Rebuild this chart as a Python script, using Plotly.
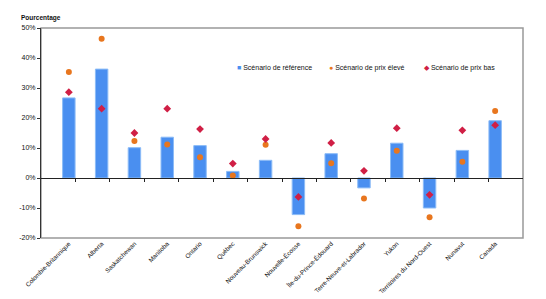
import plotly.graph_objects as go

provinces = ["Colombie-Britannique", "Alberta", "Saskatchewan", "Manitoba", "Ontario",
             "Québec", "Nouveau-Brunswick", "Nouvelle-Écosse", "Île-du-Prince-Édouard",
             "Terre-Neuve-et-Labrador", "Yukon", "Territoires du Nord-Ouest", "Nunavut", "Canada"]
reference = [26.7, 36.3, 10.1, 13.6, 10.8, 2.2, 5.9, -12.2, 8.1, -3.3, 11.6, -10.0, 9.2, 19.1]
prix_eleve = [35.3, 46.4, 12.3, 11.2, 6.9, 0.8, 11.1, -16.1, 4.9, -6.8, 9.1, -13.1, 5.4, 22.3]
prix_bas = [28.6, 23.1, 15.0, 23.1, 16.3, 4.8, 13.0, -6.3, 11.7, 2.4, 16.6, -5.6, 15.9, 17.6]
yticks = [-20, -10, 0, 10, 20, 30, 40, 50]

series_names = ["Scénario de référence", "Scénario de prix élevé", "Scénario de prix bas"]
colors = ["#4a8ff0", "#e8761e", "#d01f45"]
legend_symbols = ["■", "●", "◆"]
legend_x = [0.403, 0.594, 0.791]

font = "Liberation Sans"

fig = go.Figure()
fig.add_trace(go.Bar(x=provinces, y=reference, name=series_names[0],
                     width=0.38,
                     marker=dict(color=colors[0], line=dict(color="#8cbcf7", width=1))))
fig.add_trace(go.Scatter(x=provinces, y=prix_eleve, mode="markers", name=series_names[1],
                         marker=dict(symbol="circle", size=6, color=colors[1])))
fig.add_trace(go.Scatter(x=provinces, y=prix_bas, mode="markers", name=series_names[2],
                         marker=dict(symbol="diamond", size=6, color=colors[2])))
# axe secondaire pour les graduations sur la ligne du zéro
fig.add_trace(go.Scatter(x=[0], y=[0], xaxis="x2", mode="markers", showlegend=False,
                         marker=dict(opacity=0), hoverinfo="skip"))

# légende manuelle (plus compacte que la légende plotly)
annotations = [dict(text="<b>Pourcentage</b>", xref="paper", yref="paper",
                    x=-0.045, y=1.048, xanchor="left", yanchor="middle",
                    showarrow=False, font=dict(size=6.5, color="#111"))]
for name, col, sym, lx in zip(series_names, colors, legend_symbols, legend_x):
    annotations.append(dict(
        text=f'<span style="color:{col}">{sym}</span> {name}',
        xref="paper", yref="paper", x=lx, y=0.81, xanchor="left", yanchor="middle",
        showarrow=False, font=dict(size=7, color="#111")))

fig.update_layout(
    width=546, height=299,
    margin=dict(l=33, r=31, t=20, b=69, autoexpand=False),
    plot_bgcolor="white", paper_bgcolor="white",
    font=dict(family=font, size=7, color="#111"),
    showlegend=False,
    xaxis=dict(type="category", tickangle=-45, showgrid=False, ticks="",
               tickfont=dict(size=6.3, color="#111"), showline=False, automargin=False),
    xaxis2=dict(overlaying="x", anchor="free", position=20/70, range=[-0.5, 13.5],
                tickvals=[i + 0.5 for i in range(13)], ticks="outside", ticklen=3,
                tickcolor="#222", showticklabels=False, showgrid=False, showline=True,
                linecolor="#222", linewidth=1, zeroline=False),
    yaxis=dict(range=[-20, 50], tickvals=yticks, ticktext=[f"{v}%" for v in yticks],
               showgrid=False, zeroline=False, showline=True, linecolor="#333",
               ticks="outside", ticklen=3, tickcolor="#333", automargin=False,
               tickfont=dict(size=7, color="#111")),
    shapes=[dict(type="rect", xref="paper", yref="paper", x0=0, x1=1, y0=0, y1=1,
                 line=dict(color="#999", width=1.5), layer="below")],
    annotations=annotations,
)

fig.write_html("out.html")
